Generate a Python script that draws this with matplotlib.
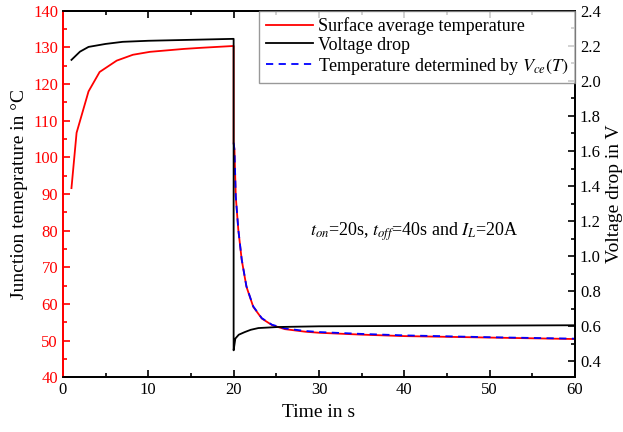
import matplotlib
matplotlib.use("Agg")
import matplotlib.pyplot as plt
from matplotlib.ticker import MultipleLocator

plt.rcParams["font.family"] = ["Liberation Serif", "DejaVu Serif"]
plt.rcParams["mathtext.fontset"] = "stix"

# surface average temperature (left axis, degC)
t_surf = [1.0, 1.6, 3.0, 4.3, 6.3, 8.2, 10.2, 12.2, 14.2, 16.2, 20.0,
          20.0, 20.1, 20.25, 20.55, 20.95, 21.5, 22.3, 23.3, 24.5, 26.0, 28.4,
          30.1, 35.0, 40.0, 50.0, 60.0]
T_surf = [91.6, 106.7, 118.0, 123.3, 126.4, 128.0, 128.8, 129.2, 129.6, 129.9, 130.4,
          104.0, 102.0, 89.3, 80.2, 72.0, 64.7, 59.2, 56.0, 54.2, 53.1, 52.4,
          52.1, 51.6, 51.2, 50.8, 50.4]

# temperature determined by Vce(T) (left axis, degC)
t_vce = [20.0, 20.1, 20.25, 20.55, 20.95, 21.5, 22.3, 23.3, 24.5, 26.0, 28.4,
         30.1, 35.0, 40.0, 50.0, 60.0]
T_vce = [104.0, 102.0, 89.4, 80.3, 72.1, 64.8, 59.3, 56.1, 54.3, 53.3, 52.6,
         52.3, 51.8, 51.4, 50.9, 50.5]

# voltage drop (right axis, V)
t_volt = [1.0, 2.0, 3.0, 5.0, 7.0, 10.0, 20.0,
          20.0, 20.2, 20.6, 21.3, 22.0, 22.9, 25.2, 30.0, 60.0]
V_drop = [2.12, 2.167, 2.194, 2.211, 2.223, 2.229, 2.24,
          0.463, 0.530, 0.552, 0.567, 0.580, 0.590, 0.596, 0.600, 0.606]

fig, ax = plt.subplots(figsize=(6.23, 4.32), dpi=100)
fig.subplots_adjust(left=0.101, right=0.923, bottom=0.127, top=0.975)
ax2 = ax.twinx()

l1, = ax.plot(t_surf, T_surf, color="red", lw=1.3, label="Surface average temperature")
l3, = ax.plot(t_vce, T_vce, color="blue", lw=1.3, ls=(0, (4, 3)),
              label="Temperature determined by $V_{ce}(T)$")
l2, = ax2.plot(t_volt, V_drop, color="black", lw=1.3, label="Voltage drop")

ax.set_xlim(0, 60)
ax.set_ylim(40, 140)
ax2.set_ylim(0.31, 2.4)
ax.xaxis.set_major_locator(MultipleLocator(10))
ax.xaxis.set_minor_locator(MultipleLocator(5))
ax.yaxis.set_major_locator(MultipleLocator(10))
ax.yaxis.set_minor_locator(MultipleLocator(5))
ax2.yaxis.set_major_locator(MultipleLocator(0.2))
ax2.yaxis.set_minor_locator(MultipleLocator(0.1))
ax2.yaxis.set_major_formatter(plt.FormatStrFormatter("%.1f"))

ax.tick_params(which="both", direction="in", top=True, labelsize=12, width=1.2)
ax.tick_params(which="major", length=5)
ax.tick_params(which="minor", length=3)
ax.tick_params(axis="y", which="both", colors="red")
ax2.tick_params(which="both", direction="in", labelsize=12, width=1.2)
ax2.tick_params(which="major", length=5)
ax2.tick_params(which="minor", length=3)

for a in (ax, ax2):
    for s in a.spines.values():
        s.set_linewidth(1.3)
ax.spines["left"].set_color("red")
ax2.spines["left"].set_color("red")

ax.set_xlabel("Time in s", fontsize=14)
ax.set_ylabel("Junction temeprature in °C", fontsize=14)
ax2.set_ylabel("Voltage drop in V", fontsize=14)

ax.text(29, 78.5, "$t_{on}$=20s, $t_{off}$=40s and $I_L$=20A", fontsize=13)

leg = ax2.legend(handles=[l1, l2, l3], loc="upper right", bbox_to_anchor=(1.0, 1.0),
                 borderaxespad=0, fontsize=13, fancybox=False, handlelength=2.6,
                 handletextpad=0.3, labelspacing=0.1, borderpad=0.35)
leg.get_frame().set_edgecolor("gray")
leg.get_frame().set_linewidth(1.0)

fig.savefig("out.png", dpi=100)
